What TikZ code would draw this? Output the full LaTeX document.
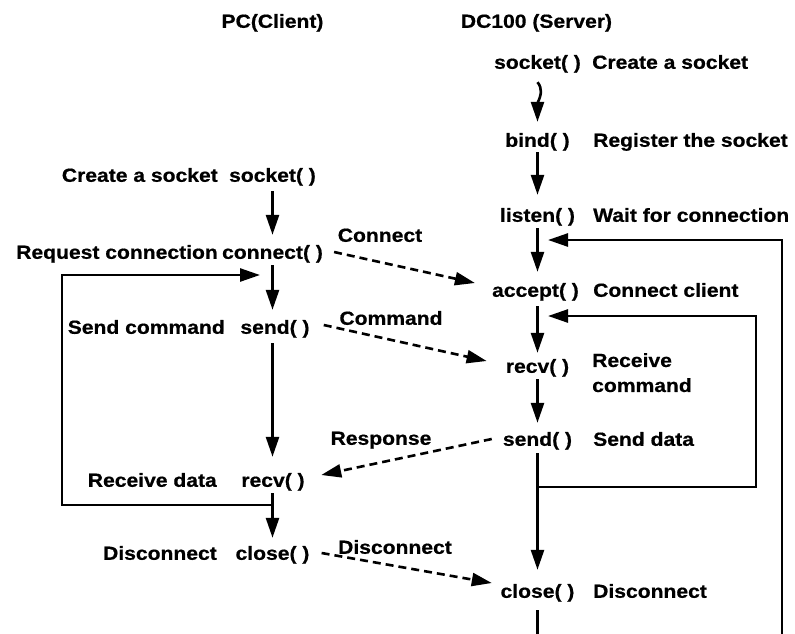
\documentclass[tikz,border=0pt]{standalone}
\usepackage{fontspec}
\newfontfamily\dfont{Liberation Sans}[FakeStretch=1.11, BoldFeatures={FakeBold=0.6}]
\usetikzlibrary{arrows.meta}
\begin{document}
\begin{tikzpicture}[x=1pt,y=-1pt,
  lblfont/.style={font=\dfont\bfseries\fontsize{19}{25}\selectfont, inner sep=0pt},
  lbl/.style={lblfont, text height=13.6pt, text depth=0pt},
  ln/.style={line width=2.6pt},
  arr/.style={line width=2.6pt, -{Triangle[length=20pt,width=13pt]}},
  darr/.style={arr, dash pattern=on 8pt off 5pt}
]
\useasboundingbox (0,0) rectangle (795,633);

% headers
\node[lbl] (hc) at (272.5,21) {PC(Client)};
\node[lbl] (hs) at (536.5,21) {DC100 (Server)};

% server column
\node[lbl] (ssock) at (537.5,62) {socket( )};
\node[lbl,anchor=west] (ssockL) at (592,62) {Create a socket};
\node[lbl] (sbind) at (537.5,140) {bind( )};
\node[lbl,anchor=west] (sbindL) at (593,140) {Register the socket};
\node[lbl] (slisten) at (537.5,215) {listen( )};
\node[lbl,anchor=west] (slistenL) at (593,215) {Wait for connection};
\node[lbl] (saccept) at (535.5,290) {accept( )};
\node[lbl,anchor=west] (sacceptL) at (593,290) {Connect client};
\node[lbl] (srecv) at (537.5,366) {recv( )};
\node[lblfont,anchor=north west,align=left] (srecvL) at (592,353) {Receive\\command};
\node[lbl] (ssend) at (537.5,439) {send( )};
\node[lbl,anchor=west] (ssendL) at (593,439) {Send data};
\node[lbl] (sclose) at (537.5,591) {close( )};
\node[lbl,anchor=west] (scloseL) at (593,591) {Disconnect};
\coordinate (sbot) at (537.5,634);

% client column
\node[lbl] (csock) at (272.5,175) {socket( )};
\node[lbl,anchor=east] (csockL) at (218,175) {Create a socket};
\node[lbl] (cconn) at (272.5,252) {connect( )};
\node[lbl,anchor=east] (cconnL) at (218,252) {Request connection};
\node[lbl] (csend) at (275,327) {send( )};
\node[lbl,anchor=east] (csendL) at (225,327) {Send command};
\node[lbl] (crecv) at (273,480) {recv( )};
\node[lbl,anchor=east] (crecvL) at (217,480) {Receive data};
\node[lbl] (cclose) at (272.5,553) {close( )};
\node[lbl,anchor=east] (ccloseL) at (217,553) {Disconnect};

% message labels
\node[lbl] (mconn) at (380,235) {Connect};
\node[lbl] (mcmd) at (391,318) {Command};
\node[lbl] (mresp) at (381,438) {Response};
\node[lbl] (mdisc) at (395,547) {Disconnect};

% client vertical flow
\draw[arr, shorten <=9.2pt, shorten >=10.2pt] (csock.south) -- (cconn.north);
\draw[arr, shorten <=6.2pt, shorten >=10.2pt] (cconn.south) -- (cconn.south |- csend.north);
\draw[arr, shorten <=9.2pt, shorten >=16.2pt] (cconn.south |- csend.south) -- (cconn.south |- crecv.north);
\draw[arr, shorten <=6.2pt, shorten >=8.2pt] (cconn.south |- crecv.south) -- (cclose.north);

% server vertical flow
\draw[arr, shorten >=11.2pt] ([yshift=-13.2pt]ssock.south)
  .. controls +(5,6) and +(4,-8) .. ([yshift=-34pt]ssock.south) -- (sbind.north);
\draw[arr, shorten <=5.2pt, shorten >=13.2pt] (sbind.south) -- (slisten.north);
\draw[arr, shorten <=6.2pt, shorten >=11.2pt] (slisten.south) -- (slisten.south |- saccept.north);
\draw[arr, shorten <=9.2pt, shorten >=6.2pt] (slisten.south |- saccept.south) -- (srecv.north);
\draw[arr, shorten <=6.2pt, shorten >=9.2pt] (srecv.south) -- (ssend.north);
\draw[arr, shorten <=7.2pt, shorten >=14.2pt] (ssend.south) -- (sclose.north);
\draw[ln, shorten <=12.2pt] (sclose.south) -- (sbot);

% server loops
\coordinate (oB) at (782,634);
\coordinate (oT) at (782,240);
\coordinate (oTip) at (548,240);
\draw[arr] (oB) -- (oT) -- (oTip);
\coordinate (iS) at (537.5,487);
\coordinate (iR) at (756,487);
\coordinate (iT) at (756,316);
\coordinate (iTip) at (548,316);
\draw[arr] (iS) -- (iR) -- (iT) -- (iTip);

% client loop
\coordinate (cS) at (273,505);
\coordinate (cL) at (62,505);
\coordinate (cT) at (62,275);
\coordinate (cTip) at (260,275);
\draw[arr] (cS) -- (cL) -- (cT) -- (cTip);

% messages
\draw[darr] ([xshift=11pt]cconn.east) -- ([xshift=-17pt,yshift=7pt]saccept.west);
\draw[darr] ([xshift=14pt,yshift=2pt]csend.east) -- ([xshift=-19pt,yshift=5pt]srecv.west);
\draw[darr] ([xshift=-11pt]ssend.west) -- ([xshift=16.4pt,yshift=5pt]crecv.east);
\draw[darr] ([xshift=12pt]cclose.east) -- ([xshift=-8.6pt,yshift=8pt]sclose.west);
\end{tikzpicture}
\end{document}
